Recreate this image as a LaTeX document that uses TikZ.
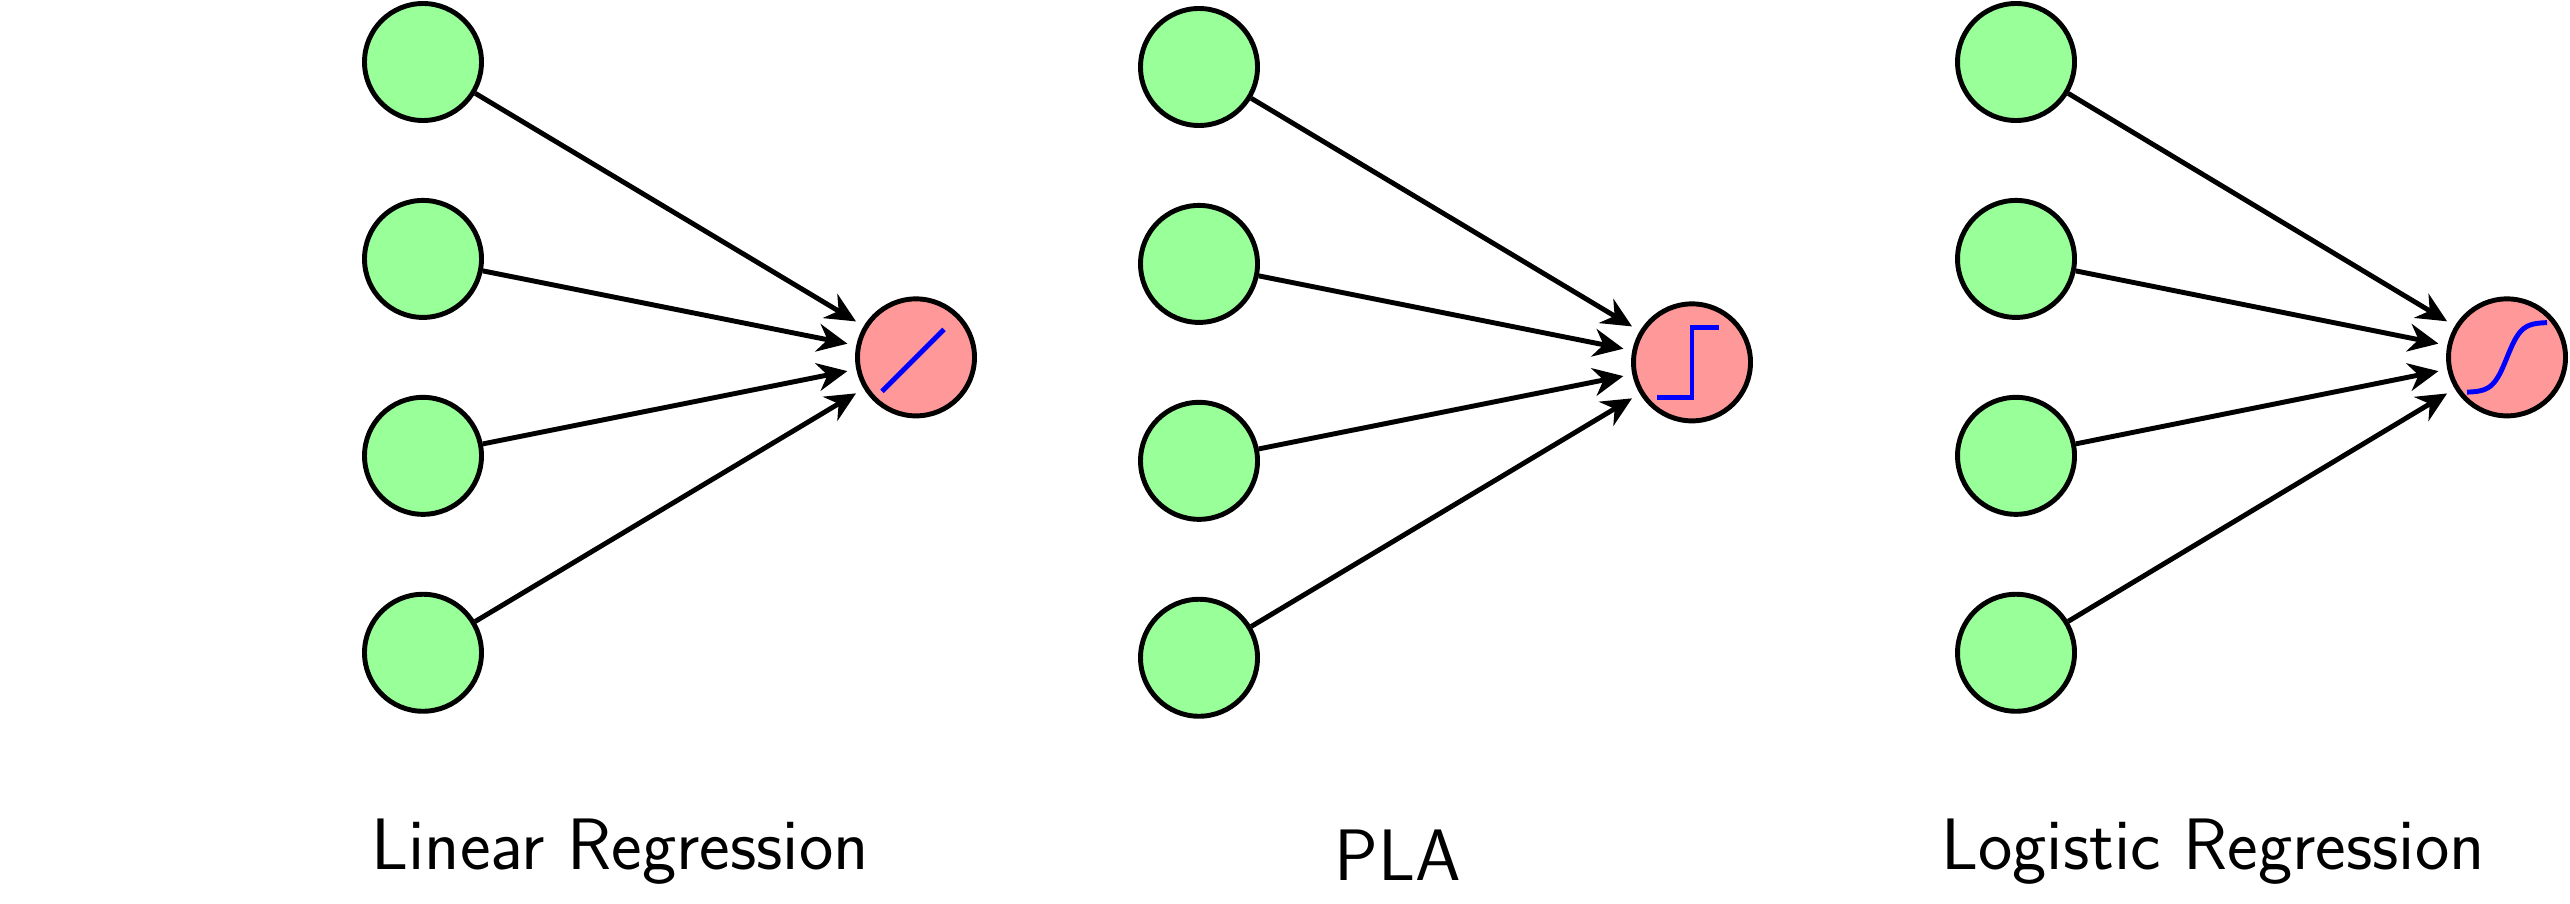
\documentclass[tikz,border=0pt]{standalone}
\usepackage{fontspec}
\usetikzlibrary{arrows.meta, positioning, calc}

\begin{document}
\begin{tikzpicture}[
    node distance = 0.75cm,
    innode/.style = {circle, draw, line width=1.4pt, fill=green!40, minimum size=1.17cm, inner sep=0pt},
    outnode/.style = {circle, draw, line width=1.4pt, fill=red!40, minimum size=1.17cm, inner sep=0pt},
    conn/.style = {draw, line width=1.4pt, -{Stealth[length=3mm, width=2.8mm]}, shorten >=0.9mm},
    act/.style = {draw=blue, line width=1.4pt},
    caption/.style = {anchor=base, inner sep=0pt, font=\sffamily\fontsize{20.74}{25}\selectfont}
]
    \useasboundingbox (0,0) rectangle (25.70,9.03);

    % Nodes - Linear Regression
    \node (l1) [innode] at (4.23,8.41) {};
    \node (l2) [innode, below=of l1] {};
    \node (l3) [innode, below=of l2] {};
    \node (l4) [innode, below=of l3] {};
    \node (lout) [outnode] at ($(l2)!0.5!(l3) + (4.93,0)$) {};

    % Nodes - PLA
    \node (p1) [innode] at (11.99,8.36) {};
    \node (p2) [innode, below=of p1] {};
    \node (p3) [innode, below=of p2] {};
    \node (p4) [innode, below=of p3] {};
    \node (pout) [outnode] at ($(p2)!0.5!(p3) + (4.93,0)$) {};

    % Nodes - Logistic Regression
    \node (g1) [innode] at (20.16,8.41) {};
    \node (g2) [innode, below=of g1] {};
    \node (g3) [innode, below=of g2] {};
    \node (g4) [innode, below=of g3] {};
    \node (gout) [outnode] at ($(g2)!0.5!(g3) + (4.91,0)$) {};

    % Edges
    \path [conn] (l1) -- (lout);
    \path [conn] (l2) -- (lout);
    \path [conn] (l3) -- (lout);
    \path [conn] (l4) -- (lout);

    \path [conn] (p1) -- (pout);
    \path [conn] (p2) -- (pout);
    \path [conn] (p3) -- (pout);
    \path [conn] (p4) -- (pout);

    \path [conn] (g1) -- (gout);
    \path [conn] (g2) -- (gout);
    \path [conn] (g3) -- (gout);
    \path [conn] (g4) -- (gout);

    % Activation glyphs
    \draw [act] (lout) ++(-0.34,-0.34) -- ++(0.62,0.62);
    \draw [act] (pout) ++(-0.35,-0.35) -- ++(0.35,0) -- ++(0,0.7) -- ++(0.27,0);
    \draw [act, shift={(gout)}] plot [domain=-0.4:0.4, samples=40, smooth] (\x, {0.35*tanh(7*\x)});

    % Captions
    \node (lcap) [caption] at (6.20,0.34) {Linear Regression};
    \node (pcap) [caption] at (13.98,0.23) {PLA};
    \node (gcap) [caption] at (22.13,0.34) {Logistic Regression};

\end{tikzpicture}
\end{document}
